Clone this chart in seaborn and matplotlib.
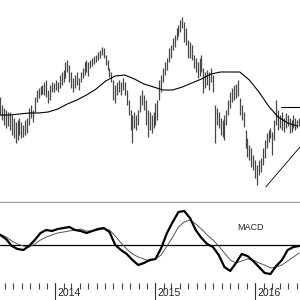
import numpy as np
import pandas as pd
import matplotlib
matplotlib.use("Agg")
import matplotlib.pyplot as plt
import matplotlib.dates as mdates
import matplotlib.transforms as mtrans
import seaborn as sns

# ---------------- data ----------------
start_date = "2013-06-14"
n_weeks = 157

highs = [103, 95, 92, 90, 88, 88, 85, 82, 78, 80,
         82, 78, 75, 80, 82, 92, 95, 90, 103, 110,
         112, 114, 115, 118, 120, 110, 115, 118, 117, 120,
         118, 125, 128, 130, 138, 140, 135, 128, 122, 125,
         128, 122, 128, 132, 138, 140, 138, 140, 142, 144,
         145, 148, 150, 153, 152, 145, 140, 132, 128, 120,
         115, 118, 120, 118, 122, 118, 110, 100, 90, 85,
         88, 85, 90, 105, 110, 105, 100, 90, 88, 85,
         88, 97, 100, 120, 125, 132, 138, 142, 152, 155,
         162, 165, 172, 175, 180, 183, 178, 172, 160, 158,
         155, 145, 142, 138, 142, 145, 132, 128, 130, 128,
         132, 125, 95, 92, 88, 82, 80, 85, 90, 100,
         108, 112, 115, 116, 120, 102, 95, 88, 70, 62,
         55, 52, 45, 40, 35, 40, 42, 52, 60, 67,
         70, 72, 68, 80, 100, 90, 85, 88, 82, 87,
         85, 82, 80, 85, 82, 80, 82]

lows = [85, 80, 75, 72, 74, 70, 65, 62, 57, 60,
        65, 62, 63, 65, 67, 75, 82, 78, 88, 98,
        102, 105, 106, 105, 103, 97, 100, 108, 108, 110,
        108, 112, 115, 118, 122, 128, 118, 112, 108, 112,
        115, 110, 118, 122, 125, 128, 124, 132, 134, 136,
        138, 140, 142, 145, 142, 135, 130, 123, 118, 100,
        97, 105, 108, 105, 110, 105, 95, 85, 70, 57,
        72, 70, 75, 88, 95, 90, 75, 63, 70, 67,
        72, 75, 80, 100, 108, 118, 125, 130, 138, 142,
        150, 153, 160, 164, 168, 172, 158, 155, 142, 142,
        140, 132, 128, 122, 124, 128, 107, 112, 115, 110,
        118, 108, 57, 75, 72, 65, 63, 60, 75, 85,
        92, 98, 100, 102, 104, 85, 80, 73, 52, 43,
        40, 33, 30, 22, 15, 25, 28, 35, 42, 52,
        58, 62, 45, 60, 75, 70, 72, 70, 68, 72,
        74, 67, 68, 72, 70, 72, 74]

# 40-week moving average, read every 5 weeks
ma_values = [85, 85, 86, 87, 87, 88, 91, 96, 100, 105,
             111, 119, 124, 125, 121, 116, 113, 110, 110, 113,
             117, 121, 126, 128, 128, 128, 120, 108, 94, 83,
             77, 74]

# MACD and signal, read every 3 weeks
macd_values = [10, 6, -1, -4, -5, -1, 5, 12, 15, 14,
               16, 17, 18, 15, 14, 12, 14, 16, 17, 13,
               0, -5, -9, -15, -20, -18, -15, -14, -3, 12,
               23, 33, 34, 27, 15, 7, 1, -2, -10, -22,
               -26, -18, -9, -11, -16, -22, -28, -29, -21, -15,
               -5, -2, -1]
signal_values = [11, 8, 4, 1, -1, -2, 1, 5, 8, 10,
                 12, 13, 14, 15, 16, 14, 14, 15, 16, 15,
                 9, 2, -4, -9, -12, -14, -16, -14, -10, -1,
                 8, 18, 23, 25, 21, 16, 10, 5, -1, -8,
                 -15, -18, -16, -14, -15, -18, -20, -23, -22, -20,
                 -16, -12, -8]

# trend lines
resist_dates = ["2016-04-03", "2016-06-13"]
resist_vals = [93, 93]
support_dates = ["2016-02-09", "2016-06-13"]
support_vals = [13, 53]

years = [2014, 2015, 2016]
macd_label = "MACD"

# ---------------- build ----------------
weeks = pd.date_range(start_date, periods=n_weeks, freq="7D")
ma_df = pd.DataFrame({"date": weeks[::5], "ma": ma_values})
macd_df = pd.DataFrame({"date": weeks[::3], "macd": macd_values,
                        "signal": signal_values})

sns.set_style("white")
plt.rcParams["font.family"] = ["Liberation Sans", "DejaVu Sans"]

fig = plt.figure(figsize=(3, 3), dpi=100)
ax1 = fig.add_axes([0, 1 - 203 / 300, 1, 203 / 300])
ax2 = fig.add_axes([0, 17 / 300, 1, 80 / 300])

xlim = (pd.Timestamp("2013-06-13"), pd.Timestamp("2016-06-13"))

# price panel
ax1.vlines(weeks, lows, highs, color="#484848", lw=0.9)
sns.lineplot(data=ma_df, x="date", y="ma", ax=ax1, color="black", lw=0.8)
ax1.plot(pd.to_datetime(resist_dates), resist_vals, color="black", lw=0.8)
ax1.plot(pd.to_datetime(support_dates), support_vals, color="black", lw=0.6)
ax1.set_xlim(xlim)
ax1.set_ylim(-3, 200)
ax1.set_xticks([])
ax1.set_yticks([])
ax1.set_xlabel("")
ax1.set_ylabel("")
for s in ["top", "left", "right"]:
    ax1.spines[s].set_visible(False)
ax1.spines["bottom"].set_color("#9a9a9a")
ax1.spines["bottom"].set_linewidth(1.6)

# MACD panel
ax2.axhline(0, color="black", lw=0.9)
sns.lineplot(data=macd_df, x="date", y="signal", ax=ax2, color="#555555", lw=0.7)
sns.lineplot(data=macd_df, x="date", y="macd", ax=ax2, color="black", lw=1.6)
ax2.set_xlim(xlim)
ax2.set_ylim(-38, 42)
ax2.set_yticks([])
ax2.set_xlabel("")
ax2.set_ylabel("")
for s in ["top", "left", "right", "bottom"]:
    ax2.spines[s].set_visible(False)
ax2.xaxis.set_major_locator(mdates.MonthLocator())
ax2.tick_params(axis="x", bottom=True, direction="out", length=4, width=0.8,
                color="#444444", labelbottom=False)

ax2.text(pd.Timestamp("2015-10-29"), 18, macd_label, fontsize=6.5,
         ha="left", va="center", color="#222222")

trans = mtrans.blended_transform_factory(ax2.transData, ax2.transAxes)
for yr in years:
    d = pd.Timestamp(f"{yr}-01-01")
    ax2.plot([d, d], [0, -0.22], transform=trans, color="#333333", lw=0.8,
             clip_on=False)
    ax2.text(d + pd.Timedelta(days=7), -0.125, str(yr), transform=trans,
             ha="left", va="center", fontsize=7.5, color="#222222")

fig.savefig("out.png", dpi=100)
